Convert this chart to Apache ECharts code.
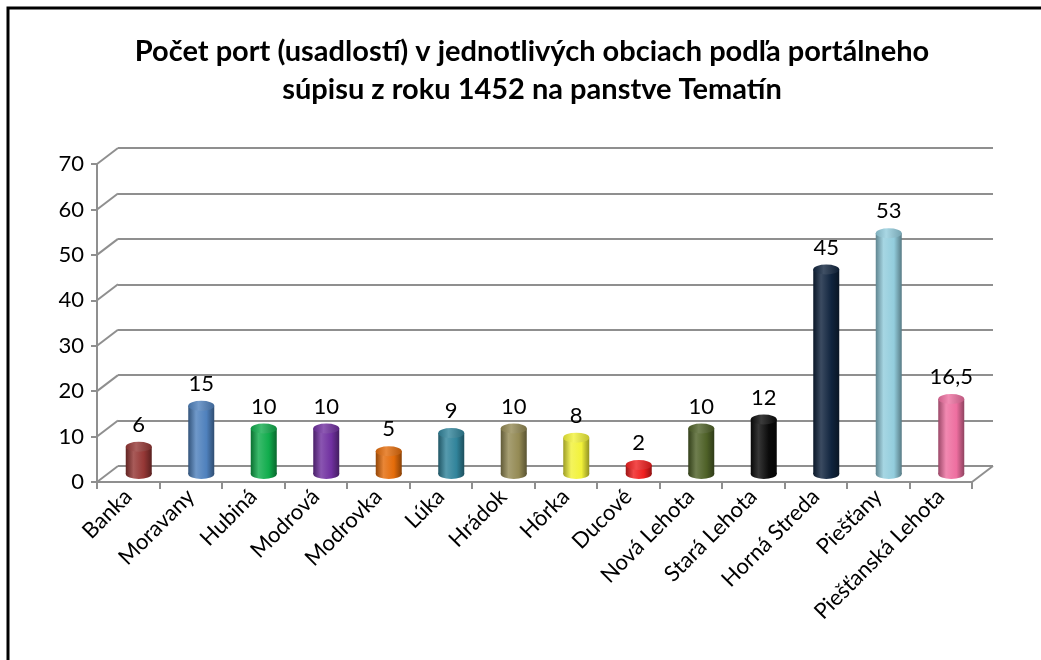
<!DOCTYPE html>
<html>
<head>
<meta charset="utf-8">
<script src="https://cdn.jsdelivr.net/npm/echarts@6/dist/echarts.min.js"></script>
<style>
  html, body { margin: 0; padding: 0; background: #fff; }
  #chart { width: 1041px; height: 660px; }
</style>
</head>
<body>
<div id="chart"></div>
<script>
var categories = ['Banka', 'Moravany', 'Hubiná', 'Modrová', 'Modrovka', 'Lúka', 'Hrádok', 'Hôrka',
  'Ducové', 'Nová Lehota', 'Stará Lehota', 'Horná Streda', 'Piešťany', 'Piešťanská Lehota']
var values = [6, 15, 10, 10, 5, 9, 10, 8, 2, 10, 12, 45, 53, 16.5]
var barColors = ['#953735', '#4F81BD', '#10AC4C', '#7030A0', '#E46C0A', '#31849B', '#948A54', '#F2F23A',
  '#F01E1E', '#4F6228', '#0A0A0A', '#10243E', '#93CDDD', '#EE6FA0']
var yTicks = [0, 10, 20, 30, 40, 50, 60, 70]
var title = 'Počet port (usadlostí) v jednotlivých obciach podľa portálneho\nsúpisu z roku 1452 na panstve Tematín'

// 3d depth of the floor / side wall
var DX = 21
var DY = 16
var front = { left: 97, top: 164, right: 69, bottom: 178 }
var gridColor = '#8f8f8f'
var font = 'Lato, "Noto Sans", sans-serif'

function shade (hex, amt) {
  var n = parseInt(hex.slice(1), 16)
  var c = [(n >> 16) & 255, (n >> 8) & 255, n & 255]
  var t = amt < 0 ? 0 : 255
  var p = Math.abs(amt)
  c = c.map(function (v) { return Math.round(v + (t - v) * p) })
  return 'rgb(' + c.join(',') + ')'
}

function bodyGrad (c) {
  return new echarts.graphic.LinearGradient(0, 0, 1, 0, [
    { offset: 0, color: shade(c, -0.35) },
    { offset: 0.3, color: shade(c, 0.18) },
    { offset: 0.7, color: c },
    { offset: 1, color: shade(c, -0.4) }
  ])
}

function topGrad (c) {
  return new echarts.graphic.LinearGradient(0, 0, 1, 0, [
    { offset: 0, color: shade(c, -0.15) },
    { offset: 0.4, color: shade(c, 0.2) },
    { offset: 1, color: shade(c, -0.2) }
  ])
}

var grids = [
  front,
  { left: front.left + DX, top: front.top - DY, right: front.right - DX, bottom: front.bottom + DY },
  { left: front.left + DX / 2, top: front.top - DY / 2, right: front.right - DX / 2, bottom: front.bottom + DY / 2 }
]

var barW = 26

var chart = echarts.init(document.getElementById('chart'), null, { renderer: 'canvas' })

var option = {
  animation: false,
  backgroundColor: '#fff',
  grid: grids,
  xAxis: [
    {
      gridIndex: 0,
      type: 'category',
      data: categories,
      boundaryGap: true,
      axisLine: { lineStyle: { color: gridColor, width: 2 } },
      axisTick: { show: true, interval: 0, length: 7, lineStyle: { color: gridColor, width: 2 } },
      axisLabel: { interval: 0, rotate: 45, margin: 11, fontSize: 22, color: '#000', fontFamily: font }
    },
    { gridIndex: 1, type: 'category', data: categories, show: false },
    { gridIndex: 2, type: 'category', data: categories, show: false }
  ],
  yAxis: [
    {
      gridIndex: 0,
      type: 'value',
      min: 0,
      max: 70,
      interval: 10,
      axisLine: { show: true, lineStyle: { color: gridColor, width: 2 } },
      axisTick: { show: true, length: 6, lineStyle: { color: gridColor, width: 2 } },
      axisLabel: { margin: 13, fontSize: 22, color: '#000', fontFamily: font },
      splitLine: { show: false }
    },
    {
      gridIndex: 1,
      type: 'value',
      min: 0,
      max: 70,
      interval: 10,
      axisLine: { show: false },
      axisTick: { show: false },
      axisLabel: { show: false },
      splitLine: { show: true, lineStyle: { color: gridColor, width: 2 } }
    },
    { gridIndex: 2, type: 'value', min: 0, max: 70, interval: 10, show: false, splitLine: { show: false } }
  ],
  series: [
    {
      // side wall / floor connectors
      type: 'custom',
      xAxisIndex: 0,
      yAxisIndex: 0,
      clip: false,
      z: 1,
      silent: true,
      data: yTicks.map(function (v) { return [0, v] }),
      encode: { x: 0, y: 1 },
      renderItem: function (params, api) {
        var cs = params.coordSys
        var y = api.coord([0, api.value(1)])[1]
        var style = { stroke: gridColor, lineWidth: 2 }
        var children = [{
          type: 'line',
          shape: { x1: cs.x, y1: y, x2: cs.x + DX, y2: y - DY },
          style: style
        }]
        if (api.value(1) === 0) {
          children.push({
            type: 'line',
            shape: { x1: cs.x + cs.width, y1: y, x2: cs.x + cs.width + DX, y2: y - DY },
            style: style
          })
        }
        return { type: 'group', children: children }
      }
    },
    {
      type: 'bar',
      xAxisIndex: 2,
      yAxisIndex: 2,
      barWidth: barW,
      z: 3,
      data: values.map(function (v, i) {
        return { value: v, itemStyle: { color: bodyGrad(barColors[i]) } }
      })
    },
    {
      // bottom caps
      type: 'pictorialBar',
      xAxisIndex: 2,
      yAxisIndex: 2,
      symbol: 'circle',
      symbolSize: [barW, 10],
      symbolOffset: [0, '50%'],
      z: 2,
      data: values.map(function (v, i) {
        return { value: v, itemStyle: { color: bodyGrad(barColors[i]) } }
      })
    },
    {
      // top caps
      type: 'pictorialBar',
      xAxisIndex: 2,
      yAxisIndex: 2,
      symbol: 'circle',
      symbolSize: [barW, 10],
      symbolPosition: 'end',
      symbolOffset: [0, '-50%'],
      z: 4,
      label: {
        show: true,
        position: 'top',
        distance: 6,
        fontSize: 22,
        color: '#000',
        fontFamily: font,
        formatter: function (p) { return String(p.value).replace('.', ',') }
      },
      data: values.map(function (v, i) {
        return { value: v, itemStyle: { color: topGrad(barColors[i]) } }
      })
    }
  ],
  graphic: [
    {
      type: 'rect',
      shape: { x: 8, y: 8, width: 1100, height: 700 },
      style: { fill: 'none', stroke: '#000', lineWidth: 3 },
      silent: true
    },
    {
      type: 'text',
      x: 532,
      y: 71,
      style: {
        text: title,
        textAlign: 'center',
        textVerticalAlign: 'middle',
        fontSize: 29,
        fontWeight: 'bold',
        lineHeight: 38,
        fontFamily: font,
        fill: '#000'
      }
    }
  ]
}

chart.setOption(option)
</script>
</body>
</html>
